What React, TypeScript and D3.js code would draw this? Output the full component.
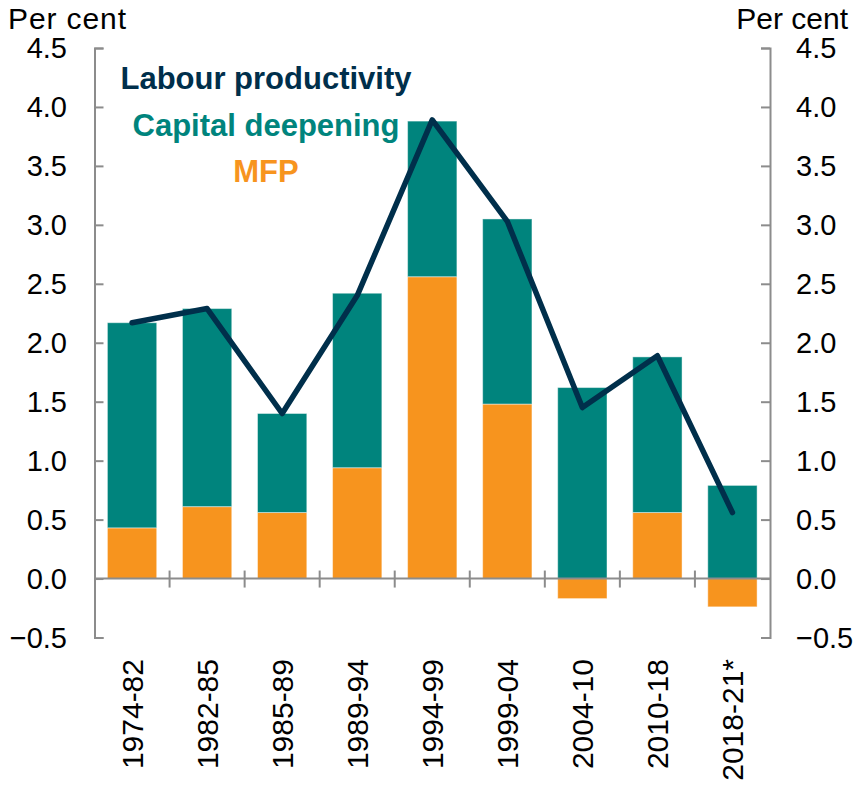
import { useEffect, useRef } from "react";
import * as d3 from "d3";

const periods = [
  "1974-82",
  "1982-85",
  "1985-89",
  "1989-94",
  "1994-99",
  "1999-04",
  "2004-10",
  "2010-18",
  "2018-21*",
];
const mfp = [0.43, 0.61, 0.56, 0.94, 2.56, 1.48, -0.17, 0.56, -0.24];
const capitalDeepening = [1.74, 1.68, 0.84, 1.48, 1.32, 1.57, 1.62, 1.32, 0.79];
const labourProductivity = [2.17, 2.29, 1.4, 2.4, 3.89, 3.03, 1.45, 1.89, 0.56];
const yTicks = [-0.5, 0, 0.5, 1, 1.5, 2, 2.5, 3, 3.5, 4, 4.5];

const NAVY = "#002F4B";
const TEAL = "#00847D";
const ORANGE = "#F7941E";
const GREY = "#8C8C8C";
const FONT = "'Liberation Sans', Arial, sans-serif";

export default function App() {
  const ref = useRef<SVGSVGElement>(null);

  useEffect(() => {
    const width = 854;
    const height = 788;
    const left = 94.5;
    const right = 770;
    const top = 48;
    const bottom = 637.5;

    const svg = d3.select(ref.current);
    svg.selectAll("*").remove();

    const x = d3
      .scaleBand<string>()
      .domain(periods)
      .range([left, right])
      .paddingInner(0.343)
      .paddingOuter(0.172);
    const y = d3.scaleLinear().domain([-0.5, 4.5]).range([bottom, top]);

    // stacked bars: MFP at the bottom, capital deepening on top
    const rows = periods.map((p, i) => ({
      period: p,
      mfp: mfp[i],
      cap: capitalDeepening[i],
    }));
    const stack = d3
      .stack<any>()
      .keys(["mfp", "cap"])
      .offset(d3.stackOffsetDiverging);
    const series = stack(rows);
    const colors: Record<string, string> = { mfp: ORANGE, cap: TEAL };

    series.forEach((s) => {
      svg
        .append("g")
        .selectAll("rect")
        .data(s)
        .join("rect")
        .attr("x", (d: any) => x(d.data.period)!)
        .attr("width", x.bandwidth())
        .attr("y", (d: any) => y(Math.max(d[0], d[1])))
        .attr("height", (d: any) => Math.abs(y(d[0]) - y(d[1])))
        .attr("fill", colors[s.key])
        .attr("stroke", "#ffffff")
        .attr("stroke-opacity", 0.45)
        .attr("stroke-width", 1);
    });

    // left and right axes, ticks pointing inward
    svg
      .append("g")
      .attr("transform", `translate(${left},0)`)
      .call(d3.axisRight(y).tickValues(yTicks).tickSize(9).tickSizeOuter(9).tickFormat(() => ""))
      .call((g) => g.selectAll("line, path").attr("stroke", GREY).attr("stroke-width", 2));
    svg
      .append("g")
      .attr("transform", `translate(${right},0)`)
      .call(d3.axisLeft(y).tickValues(yTicks).tickSize(9).tickSizeOuter(9).tickFormat(() => ""))
      .call((g) => g.selectAll("line, path").attr("stroke", GREY).attr("stroke-width", 2));

    // tick labels
    const fmt = d3.format(".1f");
    [
      { x: 67, anchor: "end" },
      { x: 796, anchor: "start" },
    ].forEach((side) => {
      svg
        .append("g")
        .selectAll("text")
        .data(yTicks)
        .join("text")
        .attr("x", side.x)
        .attr("y", (d) => y(d))
        .attr("dy", "0.35em")
        .attr("text-anchor", side.anchor)
        .attr("font-family", FONT)
        .attr("font-size", 29)
        .attr("fill", "#000")
        .text((d) => fmt(d));
    });

    // zero line with category separators
    svg
      .append("line")
      .attr("x1", left)
      .attr("x2", right)
      .attr("y1", y(0))
      .attr("y2", y(0))
      .attr("stroke", GREY)
      .attr("stroke-width", 2);
    const step = x.step();
    svg
      .append("g")
      .selectAll("line")
      .data(periods.slice(1))
      .join("line")
      .attr("x1", (d) => x(d)! - (step - x.bandwidth()) / 2)
      .attr("x2", (d) => x(d)! - (step - x.bandwidth()) / 2)
      .attr("y1", y(0) - 8)
      .attr("y2", y(0) + 9)
      .attr("stroke", GREY)
      .attr("stroke-width", 2);

    // category labels
    svg
      .append("g")
      .selectAll("text")
      .data(periods)
      .join("text")
      .attr("transform", (d) => `translate(${x(d)! + x.bandwidth() / 2},659) rotate(-90)`)
      .attr("dy", "0.35em")
      .attr("text-anchor", "end")
      .attr("font-family", FONT)
      .attr("font-size", 30)
      .attr("fill", "#000")
      .text((d) => d);

    // labour productivity line
    const line = d3
      .line<number>()
      .x((_, i) => x(periods[i])! + x.bandwidth() / 2)
      .y((d) => y(d));
    svg
      .append("path")
      .datum(labourProductivity)
      .attr("fill", "none")
      .attr("stroke", NAVY)
      .attr("stroke-width", 5.5)
      .attr("stroke-linecap", "round")
      .attr("stroke-linejoin", "round")
      .attr("d", line);

    // units
    svg
      .append("text")
      .attr("x", 8)
      .attr("y", 29)
      .attr("font-family", FONT)
      .attr("font-size", 30)
      .attr("textLength", 118)
      .text("Per cent");
    svg
      .append("text")
      .attr("x", 848)
      .attr("y", 29)
      .attr("text-anchor", "end")
      .attr("font-family", FONT)
      .attr("font-size", 30)
      .text("Per cent");

    // legend
    const legend = [
      { label: "Labour productivity", color: NAVY, y: 89 },
      { label: "Capital deepening", color: TEAL, y: 136 },
      { label: "MFP", color: ORANGE, y: 182 },
    ];
    svg
      .append("g")
      .selectAll("text")
      .data(legend)
      .join("text")
      .attr("x", 266)
      .attr("y", (d) => d.y)
      .attr("text-anchor", "middle")
      .attr("font-family", FONT)
      .attr("font-weight", "bold")
      .attr("font-size", 31)
      .attr("fill", (d) => d.color)
      .text((d) => d.label);

    svg.attr("width", width).attr("height", height);
  }, []);

  return (
    <svg
      ref={ref}
      width={854}
      height={788}
      style={{ position: "absolute", left: 0, top: 0, background: "#fff" }}
    />
  );
}
